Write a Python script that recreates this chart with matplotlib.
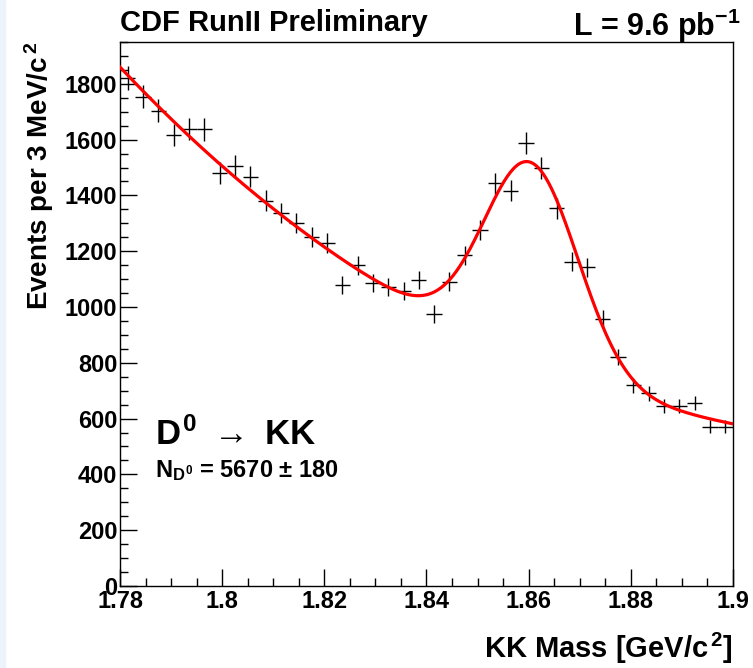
import numpy as np
import matplotlib
matplotlib.use('Agg')
import matplotlib.pyplot as plt
from matplotlib.patches import Rectangle
from matplotlib.ticker import MultipleLocator, FixedLocator

# KK invariant mass, 3 MeV bins from 1.78 to 1.90 GeV/c^2
bin_lo = 1.78
bin_width = 0.003
counts = [1820, 1754, 1703, 1616, 1638, 1637, 1481, 1505, 1467, 1381,
          1336, 1300, 1250, 1230, 1079, 1150, 1085, 1071, 1058, 1097,
          975, 1091, 1186, 1276, 1443, 1417, 1587, 1499, 1354, 1162,
          1142, 957, 822, 720, 691, 646, 646, 657, 571, 571]

x_ticks = [1.78, 1.80, 1.82, 1.84, 1.86, 1.88, 1.90]
x_tick_labels = ['1.78', '1.8', '1.82', '1.84', '1.86', '1.88', '1.9']
y_ticks = [0, 200, 400, 600, 800, 1000, 1200, 1400, 1600, 1800]

plt.rcParams['font.family'] = ['Liberation Sans', 'DejaVu Sans']
plt.rcParams['font.weight'] = 'bold'
plt.rcParams['mathtext.fontset'] = 'custom'
plt.rcParams['mathtext.rm'] = 'Liberation Sans:bold'
plt.rcParams['mathtext.it'] = 'Liberation Sans:bold'
plt.rcParams['mathtext.bf'] = 'Liberation Sans:bold'

counts = np.array(counts, dtype=float)
centers = bin_lo + bin_width * (np.arange(len(counts)) + 0.5)
errors = np.sqrt(counts)

# gaussian + cubic background fit, scan mean/sigma, linear in the rest
best = None
tt = (centers - 1.84) / 0.06
for m in np.arange(1.855, 1.8641, 0.0005):
    for s in np.arange(0.004, 0.0121, 0.0002):
        g = np.exp(-0.5 * ((centers - m) / s) ** 2)
        M = np.column_stack([g, np.ones_like(tt), tt, tt ** 2, tt ** 3]) / errors[:, None]
        coef, *_ = np.linalg.lstsq(M, counts / errors, rcond=None)
        chi2 = np.sum((M @ coef - counts / errors) ** 2)
        if best is None or chi2 < best[0]:
            best = (chi2, m, s, coef)

_, m, s, coef = best
xf = np.linspace(1.78, 1.90, 400)
tf = (xf - 1.84) / 0.06
yf = (coef[0] * np.exp(-0.5 * ((xf - m) / s) ** 2) + coef[1] + coef[2] * tf
      + coef[3] * tf ** 2 + coef[4] * tf ** 3)

fig = plt.figure(figsize=(7.53, 6.68), dpi=100)
fig.add_artist(Rectangle((0, 0), 0.007, 1, transform=fig.transFigure,
                         color='#edf3fb', zorder=0))
ax = fig.add_axes([0.1594, 0.1228, 0.814, 0.8143])

ax.plot(xf, yf, color='red', lw=2.3, zorder=3)
ax.errorbar(centers, counts, xerr=bin_width / 2, yerr=errors, fmt='none',
            ecolor='black', elinewidth=1.0, capsize=0, zorder=2)

ax.set_xlim(1.78, 1.90)
ax.set_ylim(0, 1950)
ax.xaxis.set_major_locator(FixedLocator(x_ticks))
ax.set_xticklabels(x_tick_labels)
ax.xaxis.set_minor_locator(MultipleLocator(0.005))
ax.yaxis.set_major_locator(FixedLocator(y_ticks))
ax.yaxis.set_minor_locator(MultipleLocator(50))
ax.tick_params(which='both', direction='in', top=False, right=False,
               labelsize=17, width=1.0)
ax.tick_params(which='major', length=12, pad=2)
ax.tick_params(which='minor', length=6)
ax.tick_params(axis='x', pad=3)
for sp in ax.spines.values():
    sp.set_linewidth(1.0)

ax.set_ylabel('Events per 3 MeV/c$^{\\,2}$', fontsize=20, fontweight='bold')
ax.yaxis.set_label_coords(-0.104, 1.0)
ax.yaxis.label.set_horizontalalignment('right')
ax.set_xlabel('KK Mass [GeV/c$^{\\,2}$]', fontsize=21, fontweight='bold')
ax.xaxis.set_label_coords(1.0, -0.083)
ax.xaxis.label.set_horizontalalignment('right')

fig.text(0.1594, 0.966, 'CDF RunII Preliminary', fontsize=21, fontweight='bold',
         va='center', ha='left')
fig.text(0.983, 0.962, 'L = 9.6 pb$^{-1}$', fontsize=22, fontweight='bold',
         va='center', ha='right')

ax.text(0.057, 0.278, '$D^{0}\\ \\rightarrow\\ KK$', transform=ax.transAxes,
        fontsize=25, fontweight='bold', va='center')
ax.text(0.057, 0.212, '$N_{D^{0}}$ = 5670 $\\pm$ 180', transform=ax.transAxes,
        fontsize=17, fontweight='bold', va='center')

fig.savefig('out.png', dpi=100)
